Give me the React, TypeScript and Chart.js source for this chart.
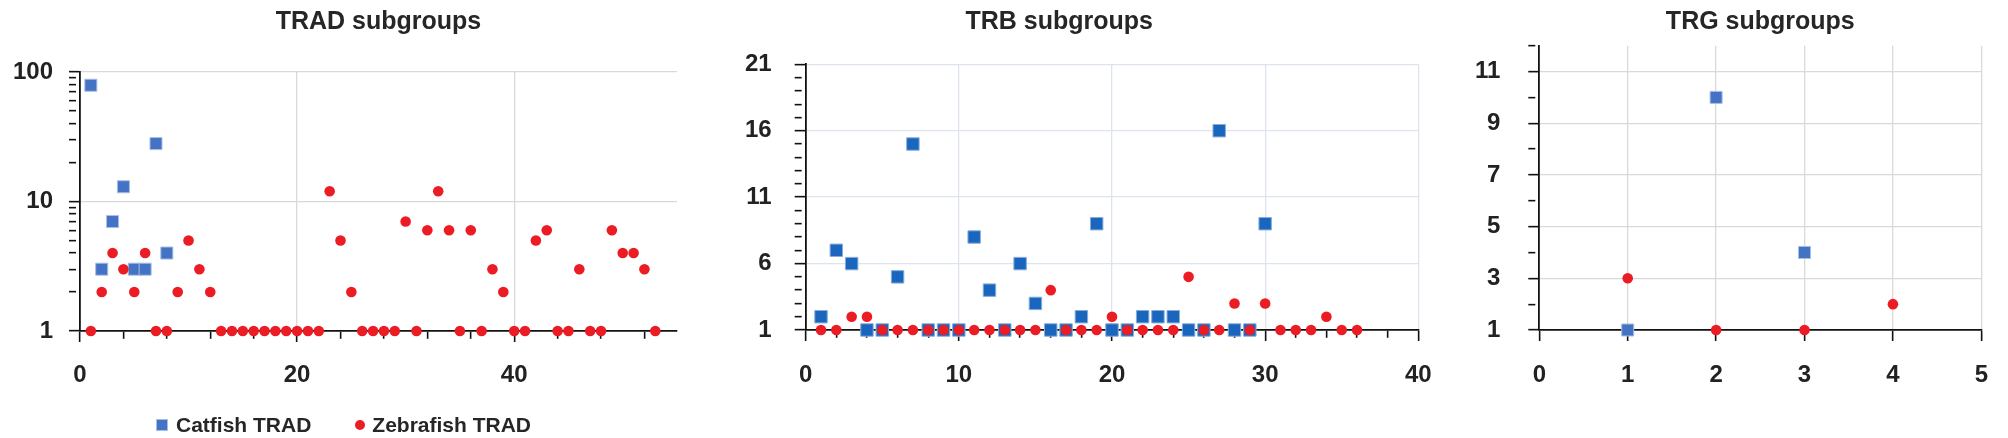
import React, { useEffect, useRef } from 'react';
import { Chart, registerables } from 'chart.js';
import type { ChartConfiguration } from 'chart.js';

Chart.register(...registerables);

const FONT = '"Liberation Sans", Arial, Helvetica, sans-serif';
const INK = '#222222';
const RED = '#EC1C24';

// subgroup number = position in the array (1-based)
const TRAD_CATFISH = [79, 3, 7, 13, 3, 3, 28, 4];
const TRAD_ZEBRAFISH = [
  1, 2, 4, 3, 2, 4, 1, 1, 2, 5, 3, 2, 1, 1, 1, 1, 1, 1, 1, 1, 1, 1, 12, 5, 2, 1, 1,
  1, 1, 7, 1, 6, 12, 6, 1, 6, 1, 3, 2, 1, 1, 5, 6, 1, 1, 3, 1, 1, 6, 4, 4, 3, 1,
];
const TRB_CATFISH = [
  2, 7, 6, 1, 1, 5, 15, 1, 1, 1, 8, 4, 1, 6, 3, 1, 1, 2, 9, 1, 1, 2, 2, 2, 1, 1, 16, 1, 1, 9,
];
const TRB_ZEBRAFISH = [
  1, 1, 2, 2, 1, 1, 1, 1, 1, 1, 1, 1, 1, 1, 1, 4, 1, 1, 1, 2, 1, 1, 1, 1, 5, 1, 1, 3, 1, 3,
  1, 1, 1, 2, 1, 1,
];
const TRG_CATFISH = [1, 10, 4];
const TRG_ZEBRAFISH = [3, 1, 1, 2];

// axis ticks
const TRAD_X_TICKS = [0, 4, 8, 12, 16, 20, 24, 28, 32, 36, 40, 44, 48, 52];
const TRAD_X_LABELS = [0, 20, 40];
const TRAD_X_GRID = [20, 40];
const TRAD_Y_TICKS = [1, 2, 3, 4, 5, 6, 7, 8, 9, 10, 20, 30, 40, 50, 60, 70, 80, 90, 100];
const TRAD_Y_LABELS = [1, 10, 100];
const TRAD_Y_GRID = [10, 100];

const TRB_X_TICKS = [0, 2, 4, 6, 8, 10, 12, 14, 16, 18, 20, 22, 24, 26, 28, 30, 32, 34, 36, 38, 40];
const TRB_X_LABELS = [0, 10, 20, 30, 40];
const TRB_X_GRID = [10, 20, 30, 40];
const TRB_Y_TICKS = [1, 2, 3, 4, 5, 6, 7, 8, 9, 10, 11, 12, 13, 14, 15, 16, 17, 18, 19, 20, 21];
const TRB_Y_LABELS = [1, 6, 11, 16, 21];
const TRB_Y_GRID = [6, 11, 16, 21];

const TRG_X_TICKS = [0, 1, 2, 3, 4, 5];
const TRG_X_LABELS = [0, 1, 2, 3, 4, 5];
const TRG_X_GRID = [1, 2, 3, 4, 5];
const TRG_Y_TICKS = [1, 2, 3, 4, 5, 6, 7, 8, 9, 10, 11, 12];
const TRG_Y_LABELS = [1, 3, 5, 7, 9, 11];
const TRG_Y_GRID = [3, 5, 7, 9, 11];

const toPoints = (ys: number[]) => ys.map((y, i) => ({ x: i + 1, y }));

interface AxisSpec {
  type: 'linear' | 'logarithmic';
  min: number;
  max: number;
  ticks: number[];
  labels: number[];
  grid: number[];
}

function makeScale(spec: AxisSpec, position: 'left' | 'bottom', size: number, padding: number, gridColor: string) {
  return {
    type: spec.type,
    position,
    min: spec.min,
    max: spec.max,
    afterBuildTicks: (s: any) => {
      s.ticks = spec.ticks.map(value => ({ value }));
    },
    afterFit: (s: any) => {
      if (position === 'left') s.width = size;
      else s.height = size;
    },
    ticks: {
      autoSkip: false,
      maxRotation: 0,
      minRotation: 0,
      padding,
      color: INK,
      font: { family: FONT, size: 24, weight: 'bold' },
      callback: (v: any) => (spec.labels.includes(Number(v)) ? String(v) : ''),
    },
    grid: {
      color: (ctx: any) => (spec.grid.includes(ctx.tick?.value) ? gridColor : 'rgba(0,0,0,0)'),
      lineWidth: 1.3,
      tickLength: 11,
      tickWidth: 1.6,
      tickColor: '#111111',
      tickBorderDash: (ctx: any) => (spec.labels.includes(ctx.tick?.value) ? [] : [7, 40]),
    },
    border: { color: '#111111', width: 1.8 },
  };
}

interface PanelSpec {
  title: string;
  fullTitle: boolean;
  titleGap: number;
  catfish: number[];
  zebrafish: number[];
  catLabel: string;
  zebLabel: string;
  blue: string;
  blueEdge: string;
  gridColor: string;
  x: AxisSpec;
  y: AxisSpec;
  yWidth: number;
  yPad: number;
  xHeight: number;
  xPad: number;
  padRight: number;
  legend: boolean;
  squareR: number;
}

function buildConfig(p: PanelSpec): ChartConfiguration<'scatter'> {
  return {
    type: 'scatter',
    data: {
      datasets: [
        {
          label: p.catLabel,
          data: toPoints(p.catfish),
          pointStyle: 'rect',
          pointRadius: p.squareR,
          pointHoverRadius: p.squareR,
          backgroundColor: p.blue,
          borderColor: p.blueEdge,
          borderWidth: 1,
          order: 1,
          clip: false,
        },
        {
          label: p.zebLabel,
          data: toPoints(p.zebrafish),
          pointStyle: 'circle',
          pointRadius: 5.3,
          pointHoverRadius: 5.3,
          backgroundColor: RED,
          borderColor: RED,
          borderWidth: 0,
          order: 0,
          clip: false,
        },
      ],
    },
    options: {
      animation: false,
      responsive: true,
      maintainAspectRatio: false,
      layout: { padding: { left: 0, top: 0, right: p.padRight, bottom: 0 } },
      plugins: {
        title: {
          display: true,
          text: p.title,
          fullSize: p.fullTitle,
          color: '#262626',
          font: { family: FONT, size: 25, weight: 'bold', lineHeight: 1.2 },
          padding: { top: 7, bottom: p.titleGap },
        },
        legend: { display: false },
        tooltip: { enabled: false },
      },
      scales: {
        x: makeScale(p.x, 'bottom', p.xHeight, p.xPad, p.gridColor) as any,
        y: makeScale(p.y, 'left', p.yWidth, p.yPad, p.gridColor) as any,
      },
    },
  };
}

const PANELS: { left: number; width: number; spec: PanelSpec }[] = [
  {
    left: 0,
    width: 700,
    spec: {
      title: 'TRAD subgroups',
      fullTitle: false,
      titleGap: 35,
      catfish: TRAD_CATFISH,
      zebrafish: TRAD_ZEBRAFISH,
      catLabel: 'Catfish TRAD',
      zebLabel: 'Zebrafish TRAD',
      blue: '#4472C4',
      blueEdge: '#A9BEE4',
      gridColor: '#D9D9D9',
      x: { type: 'linear', min: 0, max: 55, ticks: TRAD_X_TICKS, labels: TRAD_X_LABELS, grid: TRAD_X_GRID },
      y: { type: 'logarithmic', min: 1, max: 100, ticks: TRAD_Y_TICKS, labels: TRAD_Y_LABELS, grid: TRAD_Y_GRID },
      yWidth: 80,
      yPad: 16,
      xHeight: 107,
      xPad: 19,
      padRight: 23,
      legend: true,
      squareR: 8.5,
    },
  },
  {
    left: 700,
    width: 762,
    spec: {
      title: 'TRB subgroups',
      fullTitle: true,
      titleGap: 27.3,
      catfish: TRB_CATFISH,
      zebrafish: TRB_ZEBRAFISH,
      catLabel: 'Catfish TRB',
      zebLabel: 'Zebrafish TRB',
      blue: '#1A66BE',
      blueEdge: '#86AEDC',
      gridColor: '#DDE4EE',
      x: { type: 'linear', min: 0, max: 40, ticks: TRB_X_TICKS, labels: TRB_X_LABELS, grid: TRB_X_GRID },
      y: { type: 'linear', min: 1, max: 21, ticks: TRB_Y_TICKS, labels: TRB_Y_LABELS, grid: TRB_Y_GRID },
      yWidth: 105.7,
      yPad: 23,
      xHeight: 108,
      xPad: 20,
      padRight: 43.7,
      legend: false,
      squareR: 8.8,
    },
  },
  {
    left: 1462,
    width: 546,
    spec: {
      title: 'TRG subgroups',
      fullTitle: false,
      titleGap: 8.7,
      catfish: TRG_CATFISH,
      zebrafish: TRG_ZEBRAFISH,
      catLabel: 'Catfish TRG',
      zebLabel: 'Zebrafish TRG',
      blue: '#4472C4',
      blueEdge: '#A9BEE4',
      gridColor: '#D9D9D9',
      x: { type: 'linear', min: 0, max: 5, ticks: TRG_X_TICKS, labels: TRG_X_LABELS, grid: TRG_X_GRID },
      y: { type: 'linear', min: 1, max: 12, ticks: TRG_Y_TICKS, labels: TRG_Y_LABELS, grid: TRG_Y_GRID },
      yWidth: 77.3,
      yPad: 28,
      xHeight: 108,
      xPad: 20,
      padRight: 14.7,
      legend: false,
      squareR: 8.5,
    },
  },
];

// HTML legend for the first panel (Chart.js legend can't size square and dot separately)
function Legend({ spec }: { spec: PanelSpec }) {
  const text = { font: `bold 21px ${FONT}`, color: '#262626', whiteSpace: 'nowrap' as const };
  return (
    <div style={{ position: 'absolute', left: 156, top: 411, height: 28, display: 'flex', alignItems: 'center' }}>
      <span style={{ width: 12, height: 12, background: spec.blue, boxSizing: 'border-box', border: `1px solid ${spec.blueEdge}` }} />
      <span style={{ ...text, marginLeft: 8 }}>{spec.catLabel}</span>
      <span style={{ width: 10, height: 10, borderRadius: 5, background: RED, marginLeft: 44 }} />
      <span style={{ ...text, marginLeft: 7 }}>{spec.zebLabel}</span>
    </div>
  );
}

function ScatterPanel({ left, width, spec }: { left: number; width: number; spec: PanelSpec }) {
  const canvasRef = useRef<HTMLCanvasElement>(null);

  useEffect(() => {
    const canvas = canvasRef.current;
    if (!canvas) return;
    const chart = new Chart(canvas, buildConfig(spec));
    return () => chart.destroy();
  }, [spec]);

  return (
    <div style={{ position: 'absolute', left, top: 0, width, height: 438 }}>
      <canvas ref={canvasRef} />
      {spec.legend && <Legend spec={spec} />}
    </div>
  );
}

export default function App() {
  return (
    <div style={{ position: 'absolute', left: 0, top: 0, width: 2008, height: 438, background: '#fff' }}>
      {PANELS.map(p => (
        <ScatterPanel key={p.spec.title} left={p.left} width={p.width} spec={p.spec} />
      ))}
    </div>
  );
}
